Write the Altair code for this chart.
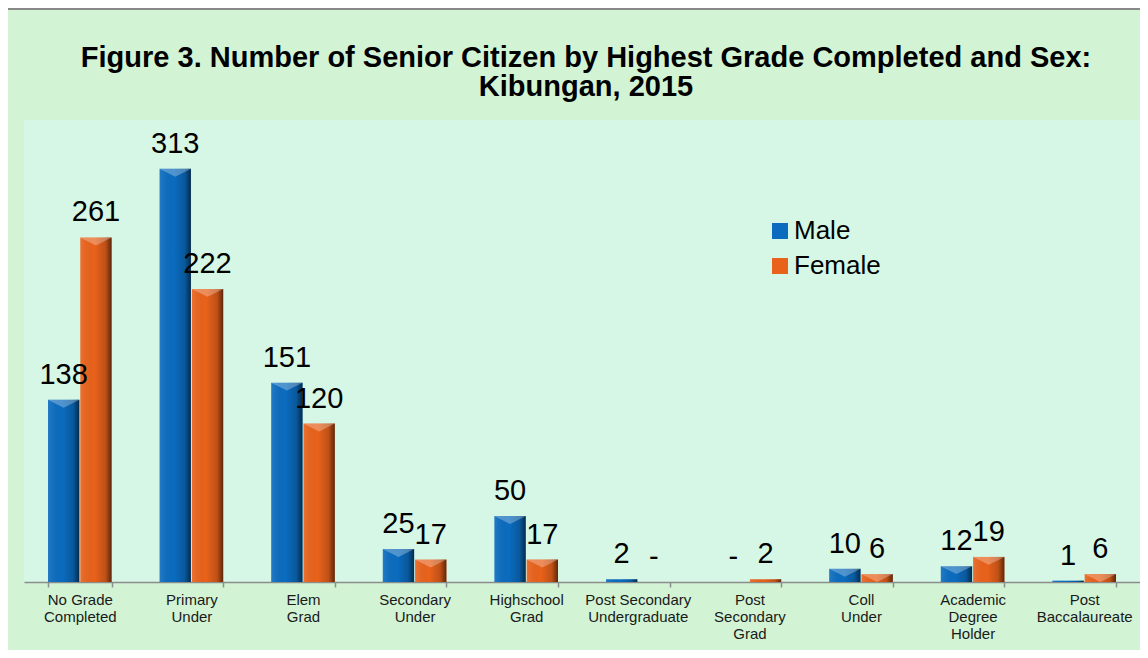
import altair as alt
import pandas as pd

categories = ["No Grade|Completed", "Primary|Under", "Elem|Grad", "Secondary|Under",
              "Highschool|Grad", "Post Secondary|Undergraduate", "Post|Secondary|Grad",
              "Coll|Under", "Academic|Degree|Holder", "Post|Baccalaureate"]
male = [138, 313, 151, 25, 50, 2, 0, 10, 12, 1]
female = [261, 222, 120, 17, 17, 0, 2, 6, 19, 6]
sexes = ["Male", "Female"]
colors = ["#0B6CBF", "#E9621B"]
title_lines = ["Figure 3. Number of Senior Citizen by Highest Grade Completed and Sex:",
               "Kibungan, 2015"]

rows = []
for c, m, f in zip(categories, male, female):
    rows.append({"cat": c, "sex": "Male", "value": m})
    rows.append({"cat": c, "sex": "Female", "value": f})
df = pd.DataFrame(rows)

FONT = "Liberation Sans"

x_enc = alt.X("cat:N", sort=categories, title=None,
              scale=alt.Scale(paddingInner=0.43, paddingOuter=0.215),
              axis=alt.Axis(labelExpr="split(datum.label, '|')", labelAngle=0,
                            tickBand="extent", domainColor="#8c8c8c", domainWidth=1.5,
                            tickColor="#8c8c8c", tickWidth=1.5, tickSize=5,
                            labelFontSize=15, labelFont=FONT, labelColor="#1a1a1a",
                            labelLineHeight=17, labelPadding=5, grid=False))
xo_enc = alt.XOffset("sex:N", sort=sexes, scale=alt.Scale(paddingInner=0.03))
y_enc = alt.Y("value:Q", axis=None, scale=alt.Scale(domain=[0, 350], nice=False))

base = alt.Chart(df)

bars = base.mark_bar().encode(
    x=x_enc, xOffset=xo_enc, y=y_enc,
    color=alt.Color("sex:N", sort=sexes,
                    scale=alt.Scale(domain=sexes, range=colors),
                    legend=alt.Legend(title=None, orient="none", legendX=743, legendY=98,
                                      symbolType="square", symbolSize=256,
                                      symbolStrokeWidth=0, labelFontSize=26,
                                      labelFont=FONT, labelColor="#000000",
                                      labelOffset=1, rowPadding=9, padding=0)),
)

shade = base.mark_bar(
    fill=alt.LinearGradient(
        gradient="linear", x1=0, x2=1, y1=0, y2=0,
        stops=[alt.GradientStop(color="rgba(255,255,255,0.10)", offset=0),
               alt.GradientStop(color="rgba(0,0,0,0)", offset=0.45),
               alt.GradientStop(color="rgba(0,0,0,0.18)", offset=0.8),
               alt.GradientStop(color="rgba(0,0,0,0.6)", offset=1)])
).encode(x=x_enc, xOffset=xo_enc, y=y_enc)

# bevel highlight: light wedge at top of each bar
top_bevel = base.transform_filter("datum.value >= 5").mark_point(
    shape="M-1,0L1,0L0,0.5Z", filled=True, size=1000, fill="white",
    opacity=0.28, strokeWidth=0
).encode(x=x_enc, xOffset=xo_enc, y=y_enc)

labels = base.transform_calculate(
    lab="datum.value == 0 ? '-' : format(datum.value, 'd')"
).mark_text(dy=-16, baseline="alphabetic", fontSize=29, font=FONT,
            color="#000000").encode(
    x=x_enc, xOffset=xo_enc, y=y_enc,
    text=alt.Text("lab:N"),
)

title = alt.Chart(alt.Data(values=[{}])).mark_text(
    text=title_lines, fontSize=29, font=FONT, fontWeight="bold", color="#000000",
    lineHeight=29, align="center", baseline="middle"
).encode(x=alt.value(562), y=alt.value(-62))

frame = alt.Chart(alt.Data(values=[{}])).mark_rect(
    fill="transparent", stroke="#888888", strokeWidth=2
).encode(x=alt.value(-17), y=alt.value(-111), x2=alt.value(1300), y2=alt.value(700))

chart = alt.layer(bars, shade, top_bevel, labels, title, frame).properties(
    width=1116, height=462,
    autosize=alt.AutoSizeParams(type="none"),
    padding={"left": 16, "top": 112, "right": 0, "bottom": 68},
    background="#D2F4D4",
).configure_view(fill="#D6F7E5", stroke=None)

chart.save("out.html", embed_options={"renderer": "svg", "actions": False})
